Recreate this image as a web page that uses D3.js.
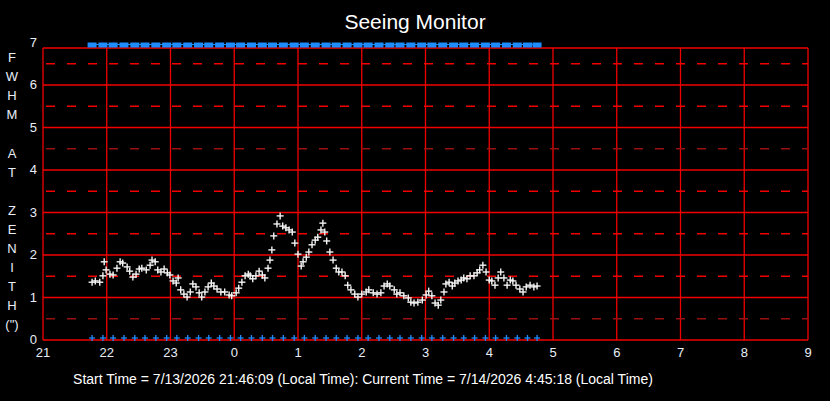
<!DOCTYPE html>
<html><head><meta charset="utf-8">
<script src="https://cdn.jsdelivr.net/npm/d3@7"></script>
<style>body{margin:0;background:#000}svg{display:block}</style>
</head><body>
<svg id="chart" width="830" height="401"></svg>
<script>
// hours after 21:00 and FWHM (arcsec)
const times = [.77,.82,.89,.94,.96,.99,1.05,1.10,1.16,1.21,1.25,1.32,1.36,1.41,1.46,1.51,1.55,1.62,1.68,1.71,1.76,1.80,1.85,1.90,1.95,1.99,2.04,2.09,2.12,2.16,2.21,2.26,2.31,2.35,2.40,2.45,2.49,2.54,2.59,2.64,2.68,2.73,2.79,2.85,2.92,2.96,3.03,3.07,3.12,3.17,3.22,3.25,3.29,3.34,3.39,3.44,3.48,3.53,3.56,3.59,3.62,3.67,3.72,3.76,3.81,3.86,3.91,3.95,4.00,4.05,4.08,4.13,4.17,4.22,4.27,4.31,4.36,4.39,4.42,4.45,4.50,4.55,4.60,4.64,4.69,4.74,4.78,4.83,4.89,4.94,5.00,5.07,5.11,5.18,5.24,5.30,5.35,5.40,5.44,5.51,5.55,5.60,5.66,5.73,5.77,5.82,5.88,5.95,6.01,6.05,6.10,6.15,6.20,6.24,6.29,6.32,6.37,6.42,6.46,6.51,6.56,6.60,6.65,6.70,6.76,6.81,6.85,6.90,6.95,7.00,7.04,7.09,7.14,7.18,7.23,7.28,7.33,7.37,7.42,7.48,7.53,7.58,7.64,7.70,7.75];
const fwhm = [1.36,1.39,1.36,1.51,1.84,1.65,1.55,1.53,1.69,1.84,1.81,1.72,1.62,1.48,1.55,1.67,1.69,1.65,1.76,1.88,1.84,1.65,1.60,1.67,1.58,1.53,1.39,1.34,1.46,1.18,1.08,1.01,1.13,1.32,1.25,1.11,1.01,1.13,1.25,1.34,1.27,1.20,1.13,1.13,1.06,1.04,1.11,1.22,1.36,1.51,1.55,1.51,1.44,1.51,1.62,1.53,1.46,1.69,1.88,2.12,2.45,2.73,2.92,2.68,2.64,2.59,2.54,2.28,2.02,1.74,1.84,1.95,2.07,2.24,2.35,2.42,2.59,2.75,2.54,2.33,2.07,1.88,1.69,1.60,1.60,1.51,1.29,1.18,1.08,1.01,1.08,1.13,1.18,1.11,1.08,1.11,1.27,1.32,1.27,1.18,1.08,1.11,1.04,0.99,0.89,0.87,0.89,0.94,1.06,1.15,1.04,0.87,0.82,0.94,1.13,1.32,1.36,1.27,1.34,1.39,1.41,1.46,1.44,1.51,1.51,1.58,1.65,1.76,1.60,1.41,1.39,1.29,1.46,1.60,1.46,1.29,1.41,1.39,1.29,1.20,1.13,1.25,1.29,1.25,1.27];
const markTimes = [.77,.94,1.10,1.27,1.44,1.60,1.77,1.94,2.10,2.27,2.44,2.60,2.77,2.94,3.10,3.27,3.44,3.60,3.77,3.94,4.10,4.27,4.44,4.60,4.77,4.94,5.10,5.27,5.44,5.60,5.77,5.94,6.10,6.27,6.44,6.60,6.77,6.94,7.10,7.27,7.44,7.60,7.75];
const xTickLabels = ["21","22","23","0","1","2","3","4","5","6","7","8","9"];
const yTicks = [0,1,2,3,4,5,6,7];
const yHalf = [0.5,1.5,2.5,3.5,4.5,5.5,6.5];
const yLetters = ["F","W","H","M","","A","T","","Z","E","N","I","T","H","(\")"];

const svg = d3.select("#chart");
const x = d3.scaleLinear().domain([0, 12]).range([43, 808]);
const y = d3.scaleLinear().domain([0, 7]).range([340, 42.5]);
const red = "#f20000";

svg.append("rect").attr("width", 830).attr("height", 401).attr("fill", "#000");

// grid
svg.selectAll(".vg").data(d3.range(13)).join("line")
  .attr("x1", d => x(d)).attr("x2", d => x(d))
  .attr("y1", 48).attr("y2", 340).attr("stroke", red).attr("stroke-width", 1.3);
svg.selectAll(".hg").data(yTicks.filter(d => d < 7)).join("line")
  .attr("x1", 43).attr("x2", 808).attr("y1", d => y(d)).attr("y2", d => y(d))
  .attr("stroke", red).attr("stroke-width", 1.3);
svg.append("line").attr("x1", 43).attr("x2", 808).attr("y1", 48).attr("y2", 48)
  .attr("stroke", red).attr("stroke-width", 1.3);
svg.selectAll(".hd").data(yHalf).join("line")
  .attr("x1", 46).attr("x2", 808).attr("y1", d => y(d)).attr("y2", d => y(d))
  .attr("stroke", d => (d == 4.5 || d == 0.5) ? "#9a1010" : red)
  .attr("stroke-width", 1.3).attr("stroke-dasharray", "9,12");

// axis labels
svg.selectAll(".yl").data(yTicks).join("text")
  .attr("x", 37).attr("y", d => y(d) + 4).attr("text-anchor", "end")
  .attr("fill", "#e8eef8").attr("font-family", "Liberation Sans, Arial").attr("font-size", 13)
  .text(d => d);
svg.selectAll(".xl").data(xTickLabels).join("text")
  .attr("x", (d, i) => x(i)).attr("y", 357).attr("text-anchor", "middle")
  .attr("fill", "#e8eef8").attr("font-family", "Liberation Sans, Arial").attr("font-size", 13)
  .text(d => d);
svg.selectAll(".let").data(yLetters).join("text")
  .attr("x", 12).attr("y", (d, i) => 62 + i * 19.1).attr("text-anchor", "middle")
  .attr("fill", "#e8eef8").attr("font-family", "Liberation Sans, Arial").attr("font-size", 13)
  .text(d => d);

svg.append("text").attr("x", 415).attr("y", 29).attr("text-anchor", "middle")
  .attr("fill", "#fff").attr("font-family", "Liberation Sans, Arial").attr("font-size", 21)
  .text("Seeing Monitor");
svg.append("text").attr("x", 363).attr("y", 384).attr("text-anchor", "middle")
  .attr("fill", "#fff").attr("font-family", "Liberation Sans, Arial").attr("font-size", 14)
  .text("Start Time = 7/13/2026 21:46:09 (Local Time):  Current Time = 7/14/2026 4:45:18 (Local Time)");

// blue markers
svg.append("line").attr("x1", x(markTimes[0]) - 3).attr("x2", x(markTimes[markTimes.length - 1]) + 3)
  .attr("y1", y(7) + 2).attr("y2", y(7) + 2).attr("stroke", "#1e8cff").attr("stroke-width", 1);
svg.selectAll(".ts").data(markTimes).join("rect")
  .attr("x", d => x(d) - 4.5).attr("y", y(7)).attr("width", 9).attr("height", 5)
  .attr("fill", "#1e8cff");
const plus = (g, cx, cy, s, c, w) => {
  g.append("line").attr("x1", cx - s).attr("x2", cx + s).attr("y1", cy).attr("y2", cy).attr("stroke", c).attr("stroke-width", w);
  g.append("line").attr("x1", cx).attr("x2", cx).attr("y1", cy - s).attr("y2", cy + s).attr("stroke", c).attr("stroke-width", w);
};
const gb = svg.append("g");
markTimes.forEach(t => plus(gb, x(t), y(0) - 2, 3, "#1e8cff", 1.3));

// data points
const gd = svg.append("g");
times.forEach((t, i) => plus(gd, x(t), y(fwhm[i]), 3.5, "#f4f4f4", 1.4));
</script>
</body></html>
